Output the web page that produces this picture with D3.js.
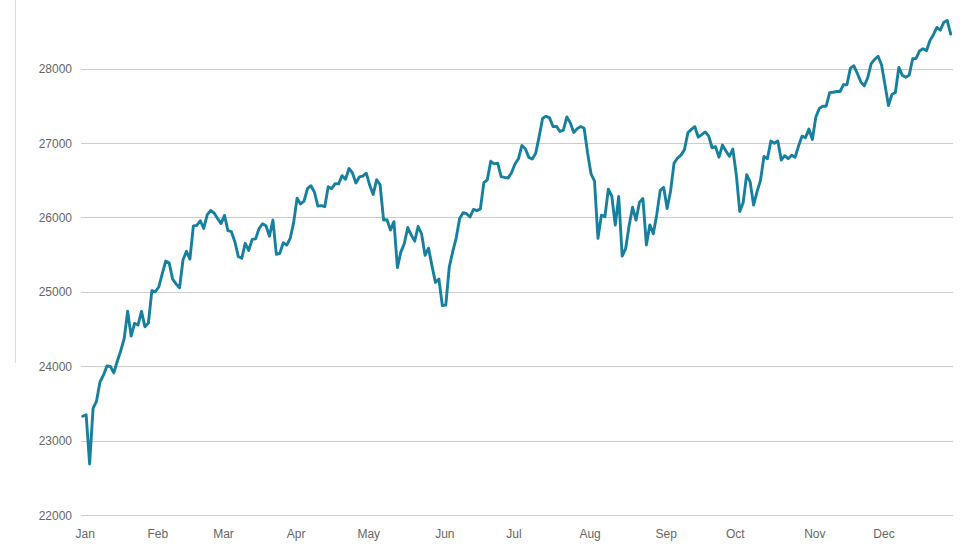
<!DOCTYPE html>
<html>
<head>
<meta charset="utf-8">
<script src="https://cdn.jsdelivr.net/npm/d3@7"></script>
<style>
  html, body { margin: 0; padding: 0; background: #fff; }
  svg { display: block; }
</style>
</head>
<body>
<svg id="chart" width="976" height="549"></svg>
<script>
// Daily closing values (Dec 31 2018 .. Dec 30 2019), one per trading day
const values = [
  23327,
  // Jan
  23346, 22686, 23433, 23531, 23787, 23879, 24002, 23996, 23910, 24066, 24207, 24370, 24740,
  24404, 24576, 24553, 24737, 24528, 24580, 25015, 25000,
  // Feb
  25064, 25239, 25412, 25390, 25170, 25106, 25053, 25426, 25543, 25439, 25883,
  25891, 25954, 25851, 26032, 26092, 26058, 25985, 25916,
  // Mar
  26026, 25820, 25807, 25673, 25473, 25450, 25651, 25555, 25703, 25710, 25849,
  25914, 25887, 25746, 25963, 25502, 25517, 25658, 25626, 25717, 25929,
  // Apr
  26258, 26179, 26218, 26385, 26425, 26341, 26151, 26157, 26143, 26412, 26385,
  26453, 26450, 26560, 26511, 26656, 26597, 26462, 26543, 26554, 26593,
  // May
  26430, 26308, 26505, 26438, 25965, 25967, 25828, 25942, 25325, 25532, 25648,
  25863, 25764, 25680, 25877, 25777, 25490, 25586, 25348, 25126, 25170, 24815,
  // Jun
  24820, 25332, 25540, 25721, 25984, 26063, 26049, 26005, 26107, 26090,
  26113, 26466, 26504, 26753, 26719, 26728, 26548, 26537, 26527, 26600,
  // Jul
  26717, 26787, 26966, 26922, 26806, 26783, 26860, 27088, 27332, 27359, 27336,
  27220, 27223, 27154, 27172, 27349, 27270, 27141, 27192, 27221, 27198, 26864,
  // Aug
  26583, 26485, 25718, 26030, 26007, 26378, 26287, 25896, 26280, 25479, 25579,
  25886, 26136, 25962, 26203, 26252, 25629, 25899, 25778, 26036, 26362, 26403,
  // Sep
  26118, 26355, 26728, 26797, 26836, 26909, 27137, 27182, 27220, 27077,
  27111, 27147, 27095, 26935, 26950, 26808, 26971, 26891, 26820, 26917,
  // Oct
  26573, 26079, 26201, 26574, 26478, 26164, 26346, 26497, 26817, 26787, 27025, 26996,
  27026, 26770, 26828, 26788, 26834, 26806, 26958, 27091, 27071, 27187, 27046,
  // Nov
  27347, 27462, 27493, 27493, 27675, 27681, 27691, 27691, 27784, 27782,
  28005, 28036, 27934, 27821, 27766, 27876, 28066, 28122, 28164, 28051,
  // Dec
  27783, 27503, 27650, 27678, 28015, 27910, 27882, 27911, 28132, 28135,
  28236, 28267, 28239, 28377, 28455, 28552, 28515, 28621, 28645, 28462
];

// x-axis labels and the index of the first trading day of each month
const monthLabels = ["Jan", "Feb", "Mar", "Apr", "May", "Jun", "Jul", "Aug", "Sep", "Oct", "Nov", "Dec"];
const monthIndex  = [1, 22, 41, 62, 83, 105, 125, 147, 169, 189, 212, 232];

// y-axis ticks
const yTicks = [22000, 23000, 24000, 25000, 26000, 27000, 28000];

const svg = d3.select("#chart");
const font = "'Liberation Sans', Arial, Helvetica, sans-serif";

const x = d3.scaleLinear().domain([0, values.length - 1]).range([82.7, 950.7]);
const y = d3.scaleLinear().domain([22000, 28000]).range([515, 68.5]);

// left decorative vertical rule
svg.append("line")
  .attr("x1", 15.5).attr("x2", 15.5)
  .attr("y1", 0).attr("y2", 363)
  .attr("stroke", "#d9d9d9").attr("stroke-width", 1);

// y grid + labels
const yAxis = d3.axisLeft(y)
  .tickValues(yTicks)
  .tickSize(0)
  .tickPadding(0)
  .tickFormat(d3.format("d"));

const gy = svg.append("g").call(yAxis);
gy.select(".domain").remove();
gy.selectAll(".tick text")
  .attr("x", 72)
  .attr("dy", "0.35em")
  .attr("fill", "#666")
  .style("font-family", font)
  .style("font-size", "12px");
gy.selectAll(".tick").append("line")
  .attr("x1", 80.7).attr("x2", 953)
  .attr("stroke", "#cccccc").attr("stroke-width", 1)
  .attr("shape-rendering", "crispEdges");

// x-axis labels
const xAxis = d3.axisBottom(x)
  .tickValues(monthIndex)
  .tickSize(0)
  .tickPadding(0)
  .tickFormat((d, i) => monthLabels[i]);
const gx = svg.append("g").attr("transform", "translate(-1.5,0)").call(xAxis);
gx.select(".domain").remove();
gx.selectAll(".tick text")
  .attr("y", 537.5)
  .attr("dy", 0)
  .attr("fill", "#666")
  .style("font-family", font)
  .style("font-size", "12px");

// line
const line = d3.line()
  .x((d, i) => x(i))
  .y(d => y(d));

svg.append("path")
  .datum(values)
  .attr("d", line)
  .attr("fill", "none")
  .attr("stroke", "#17809f")
  .attr("stroke-width", 2.9)
  .attr("stroke-linejoin", "round")
  .attr("stroke-linecap", "round");
</script>
</body>
</html>
